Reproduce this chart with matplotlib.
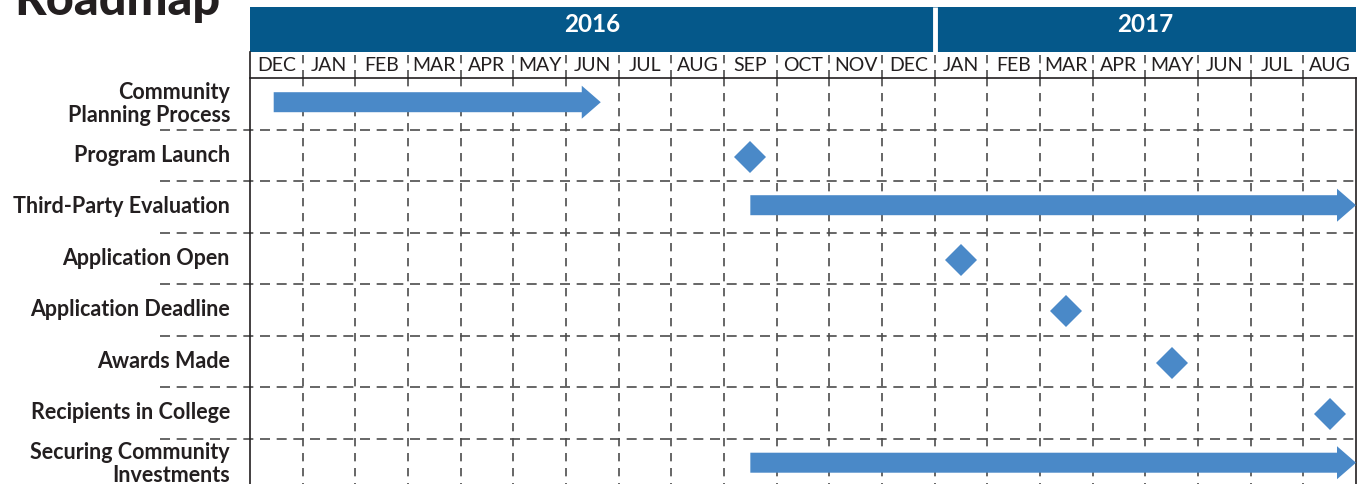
import matplotlib
matplotlib.use('Agg')
import matplotlib.pyplot as plt
from matplotlib.patches import Polygon, Rectangle

# Timeline data (month index 0 = DEC 2015)
months = ['DEC', 'JAN', 'FEB', 'MAR', 'APR', 'MAY', 'JUN', 'JUL', 'AUG', 'SEP', 'OCT',
          'NOV', 'DEC', 'JAN', 'FEB', 'MAR', 'APR', 'MAY', 'JUN', 'JUL', 'AUG']
years = ['2016', '2017']
year_start = [0, 13]
year_end = [13, 21]

tasks = ['Community\nPlanning Process', 'Program Launch', 'Third-Party Evaluation',
         'Application Open', 'Application Deadline', 'Awards Made',
         'Recipients in College', 'Securing Community\nInvestments']
task_kind = ['span', 'milestone', 'span', 'milestone', 'milestone', 'milestone',
             'milestone', 'span']
task_start = [0.45, 9.5, 9.5, 13.5, 15.5, 17.5, 20.5, 9.5]
task_end = [6.66, 9.5, 21.0, 13.5, 15.5, 17.5, 20.5, 21.0]

# Styles
W, H = 1357, 484
BAND = '#05588A'
BLUE = '#4A89C8'
TEXT = '#231F20'
GRID = '#4D4D4D'
FONT = 'Lato'
col_px = 1106 / 21
row_px = 51.5

fig = plt.figure(figsize=(W / 100, H / 100), dpi=100)

# Header axes (y in pixel units from top)
axh = fig.add_axes([250 / W, 1 - 78 / H, 1106 / W, 71 / H])
axh.set_xlim(0, 21)
axh.set_ylim(78, 7)
axh.axis('off')
for yr, s, e in zip(years, year_start, year_end):
    axh.add_patch(Rectangle((s, 7), e - s, 45, facecolor=BAND, edgecolor='none'))
    axh.text((s + e) / 2, 25, yr, ha='center', va='center', color='white',
             fontsize=17.5, fontweight='bold', family=FONT)
for s in year_start[1:]:
    axh.plot([s, s], [7, 52], color='white', lw=3.5, solid_capstyle='butt')
for i, m in enumerate(months):
    axh.text(i + 0.5, 65.5, m, ha='center', va='center', color=TEXT,
             fontsize=14, family=FONT)
for i in range(1, 21):
    axh.plot([i, i], [55, 78], color=GRID, lw=1.2, ls=(0, (5, 4)))

# Body axes (y in row units)
n_rows = len(tasks)
axb = fig.add_axes([250 / W, 0, 1106 / W, 406 / H])
axb.set_xlim(0, 21)
axb.set_ylim(406 / row_px, 0)
axb.axis('off')

for i in range(1, 21):
    axb.plot([i, i], [0, 406 / row_px], color=GRID, lw=1.2, ls=(0, (5, 4)), zorder=1)
for r in range(1, n_rows):
    axb.plot([-90 / col_px, 21], [r, r], color=GRID, lw=1.2, ls=(0, (6, 4)),
             clip_on=False, zorder=1)

# Solid frame lines
axb.plot([0, 0], [-26 / row_px, 406 / row_px], color=TEXT, lw=1.2, clip_on=False, zorder=3)
axb.plot([21, 21], [0, 406 / row_px], color=TEXT, lw=1.2, clip_on=False, zorder=3)
axb.plot([0, 21], [0, 0], color=TEXT, lw=1.2, clip_on=False, zorder=3)

bar_half = 10 / row_px
head_half = 16.5 / row_px
head_len = 19 / col_px

for r, (lab, kind, s, e) in enumerate(zip(tasks, task_kind, task_start, task_end)):
    yc = r + 0.5
    axb.text(-20 / col_px, yc, lab, ha='right', va='center', fontsize=15.5,
             fontweight='bold', family=FONT, color=TEXT, clip_on=False,
             multialignment='right', linespacing=1.1)
    if kind == 'span':
        yb = yc - 0.03
        verts = [(s, yb - bar_half), (e - head_len, yb - bar_half),
                 (e - head_len, yb - head_half), (e, yb),
                 (e - head_len, yb + head_half), (e - head_len, yb + bar_half),
                 (s, yb + bar_half)]
        axb.add_patch(Polygon(verts, closed=True, facecolor=BLUE, edgecolor='none',
                              clip_on=False, zorder=4))
    else:
        axb.plot([s], [yc + 0.03], marker='D', markersize=16.5, color=BLUE,
                 markeredgewidth=0, clip_on=False, zorder=4)

fig.text(14 / W, 1 - 15 / H, 'Roadmap', ha='left', va='baseline', fontsize=35,
         fontweight='black', family=FONT, color=TEXT)

fig.savefig('out.png', dpi=100)
